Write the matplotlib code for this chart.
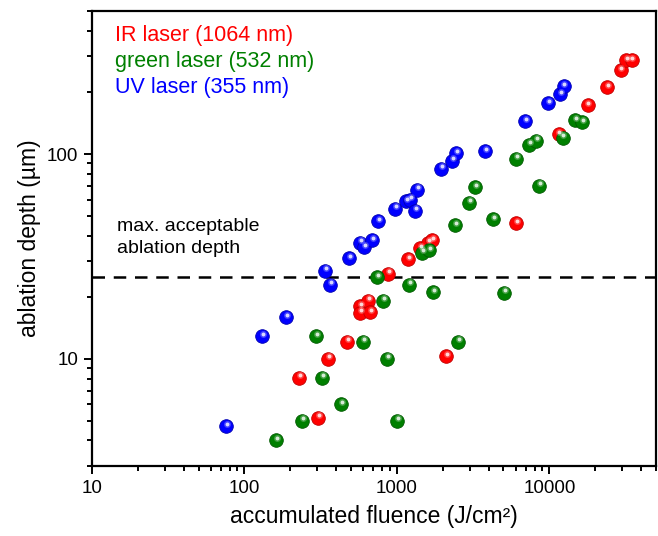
import matplotlib
matplotlib.use("Agg")
import matplotlib.pyplot as plt
import matplotlib.transforms as mtransforms
from matplotlib.ticker import LogLocator, NullFormatter, FixedLocator

plt.rcParams['font.family'] = ['Liberation Sans', 'DejaVu Sans']

# UV laser (355 nm)
uv_fluence = [76, 131, 188, 338, 365, 486, 574, 611, 689, 754, 975, 1150, 1220,
              1320, 1360, 1950, 2300, 2450, 3800, 6970, 9860, 11800, 12400]
uv_depth = [4.7, 12.9, 16.0, 27.0, 23.0, 31.0, 37.0, 35.0, 38.0, 47.0, 54.0, 59.0,
            60.0, 53.0, 67.0, 85.0, 93.0, 101.0, 103.0, 145.0, 177.0, 196.0, 215.0]

# IR laser (1064 nm)
ir_fluence = [228, 304, 354, 472, 574, 649, 574, 668, 877, 1190, 1420, 1600, 1710,
              2110, 6080, 11500, 17800, 24000, 29300, 32000, 34600]
ir_depth = [8.1, 5.15, 10.0, 12.1, 18.1, 19.2, 16.8, 16.9, 26.0, 30.7, 34.7, 37.0,
            38.0, 10.3, 46.0, 125.0, 173.0, 212.0, 257.0, 288.0, 288.0]

# green laser (532 nm)
green_fluence = [162, 239, 296, 324, 431, 601, 743, 813, 864, 1000, 1200, 1470, 1630,
                 1730, 2530, 2420, 2990, 3270, 4290, 5070, 6080, 7400, 8230, 8610,
                 12200, 14800, 16500]
green_depth = [4.0, 5.0, 12.9, 8.1, 6.0, 12.1, 25.0, 19.2, 10.0, 5.0, 23.0, 33.0, 34.0,
               21.2, 12.1, 45.0, 58.0, 69.0, 48.0, 21.0, 95.0, 111.0, 116.0, 70.0,
               120.0, 146.0, 143.0]

threshold = 25.0

series = [
    ("IR laser (1064 nm)", ir_fluence, ir_depth, "#ff0000", "#c00000"),
    ("green laser (532 nm)", green_fluence, green_depth, "#008000", "#005a00"),
    ("UV laser (355 nm)", uv_fluence, uv_depth, "#0000ff", "#0000b0"),
]

fig = plt.figure(figsize=(6.58, 5.36), dpi=100)
ax = fig.add_axes([0.1398, 0.1306, 0.857, 0.849])
ax.set_xscale("log")
ax.set_yscale("log")
ax.set_xlim(10, 50000)
ax.set_ylim(3, 500)

ax.axhline(threshold, color="black", lw=1.8, ls=(0, (5, 3.5)), zorder=1)

hl_offset = mtransforms.ScaledTranslation(0.6 / 72, 1.8 / 72, fig.dpi_scale_trans)
for name, xs, ys, c, ec in series:
    ax.plot(xs, ys, ls="none", marker="o", ms=9.8, mfc=c, mec=ec, mew=0.6, zorder=3)
    ax.plot(xs, ys, ls="none", marker="o", ms=5.0, mfc="white", mec="none",
            alpha=0.25, zorder=4, transform=ax.transData + hl_offset)
    ax.plot(xs, ys, ls="none", marker="o", ms=2.8, mfc="white", mec="none",
            alpha=0.8, zorder=5, transform=ax.transData + hl_offset)

for s in ax.spines.values():
    s.set_linewidth(1.6)

ax.tick_params(which="both", direction="out", top=False, right=False, width=1.4)
ax.tick_params(which="major", length=6, labelsize=13.5, pad=4)
ax.tick_params(which="minor", length=3.5)
ax.xaxis.set_major_locator(FixedLocator([10, 100, 1000, 10000]))
ax.xaxis.set_minor_locator(LogLocator(base=10, subs=range(2, 10), numticks=20))
ax.xaxis.set_minor_formatter(NullFormatter())
ax.yaxis.set_major_locator(FixedLocator([10, 100]))
ax.yaxis.set_minor_locator(LogLocator(base=10, subs=range(2, 10), numticks=20))
ax.yaxis.set_minor_formatter(NullFormatter())
ax.set_xticklabels(["10", "100", "1000", "10000"])
ax.set_yticklabels(["10", "100"])

ax.set_xlabel("accumulated fluence (J/cm²)", fontsize=16.5, labelpad=6)
ax.set_ylabel("ablation depth (µm)", fontsize=16.5, labelpad=4)

ytxt = [0.945, 0.888, 0.831]
for (name, xs, ys, c, ec), yy in zip(series, ytxt):
    ax.text(0.04, yy, name, color=c, fontsize=15.5, transform=ax.transAxes,
            va="center", ha="left")

ax.text(0.045, 0.502, "max. acceptable\nablation depth", fontsize=14,
        transform=ax.transAxes, va="center", ha="left", linespacing=1.45)

fig.savefig("out.png", dpi=100)
